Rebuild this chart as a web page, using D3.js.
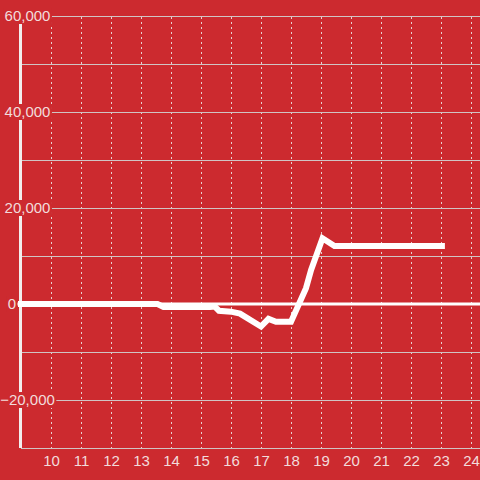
<!DOCTYPE html>
<html>
<head>
<meta charset="utf-8">
<script src="https://cdn.jsdelivr.net/npm/d3@7"></script>
<style>
  body { margin: 0; background: #cc2a2f; }
  svg { display: block; }
  svg text { font-family: "Liberation Sans", Arial, sans-serif; }
</style>
</head>
<body>
<svg id="chart" width="480" height="480"></svg>
<script>
// Colours
var bg = "#cc2a2f";
var labelColour = "#f2dcdc";

// Data
var hours = [9, 13.55, 13.75, 15.3, 15.45, 15.6, 16.0, 16.3, 17.0, 17.25, 17.5, 18.0, 18.5, 18.67, 19.05, 19.45, 23.03];
var values = [0, 0, -600, -600, -500, -1400, -1600, -2000, -4700, -3100, -3700, -3700, 3300, 7100, 13700, 12100, 12100];
var xTicks = [10, 11, 12, 13, 14, 15, 16, 17, 18, 19, 20, 21, 22, 23, 24];
var yGrid = [-20000, -10000, 0, 10000, 20000, 30000, 40000, 50000, 60000];
var yLabels = [-20000, 0, 20000, 40000, 60000];

function drawChart() {
    var width = 480;
    var height = 480;
    var plotLeft = 21, plotRight = 480, plotTop = 16, plotBottom = 448;

    var svg = d3.select("#chart");

    svg.append("rect")
        .attr("width", width)
        .attr("height", height)
        .attr("fill", bg);

    var xScale = d3.scaleLinear()
        .domain([9, 24.3])
        .range([plotLeft, plotRight]);

    var yScale = d3.scaleLinear()
        .domain([-30000, 60000])
        .range([plotBottom, plotTop]);

    // Vertical dashed grid
    svg.append("g")
        .selectAll("line")
        .data(xTicks)
        .enter()
        .append("line")
        .attr("x1", d => Math.round(xScale(d)) + 0.5)
        .attr("x2", d => Math.round(xScale(d)) + 0.5)
        .attr("y1", plotTop + 1)
        .attr("y2", plotBottom)
        .attr("stroke", "#e6d0d0")
        .attr("stroke-width", 1)
        .attr("stroke-dasharray", "2,3");

    // Horizontal grid
    svg.append("g")
        .selectAll("line")
        .data(yGrid)
        .enter()
        .append("line")
        .attr("x1", plotLeft)
        .attr("x2", plotRight)
        .attr("y1", d => Math.round(yScale(d)) + 0.5)
        .attr("y2", d => Math.round(yScale(d)) + 0.5)
        .attr("stroke", "#d0c4c4")
        .attr("stroke-width", 1);

    // x axis
    var xAxis = d3.axisBottom(xScale)
        .tickValues(xTicks)
        .tickSize(0)
        .tickPadding(7)
        .tickFormat(d3.format("d"));

    var gx = svg.append("g")
        .attr("transform", "translate(0," + (plotBottom + 0.5) + ")")
        .call(xAxis);
    gx.attr("font-family", null).attr("font-size", null);
    gx.select(".domain").attr("stroke", "#d0c4c4").attr("d", "M" + plotLeft + ",0H" + plotRight);
    gx.selectAll("text")
        .attr("fill", labelColour)
        .style("font-size", "15px");

    // y axis line
    svg.append("line")
        .attr("x1", 20.5)
        .attr("x2", 20.5)
        .attr("y1", plotTop)
        .attr("y2", plotBottom)
        .attr("stroke", "#f2eeee")
        .attr("stroke-width", 3);

    // zero line
    svg.append("line")
        .attr("x1", 17)
        .attr("x2", plotRight)
        .attr("y1", yScale(0))
        .attr("y2", yScale(0))
        .attr("stroke", "#ffffff")
        .attr("stroke-width", 3);

    // data line
    var line = d3.line()
        .x((d, i) => xScale(hours[i]))
        .y(d => yScale(d));

    svg.append("path")
        .datum(values)
        .attr("d", line)
        .attr("fill", "none")
        .attr("stroke", "#ffffff")
        .attr("stroke-width", 6)
        .attr("stroke-linecap", "square");

    // y labels with background boxes covering the grid
    var fmt = d3.format(",");
    var yl = svg.append("g");
    yLabels.forEach(function (v) {
        var g = yl.append("g");
        var box = g.append("rect").attr("fill", bg);
        var t = g.append("text")
            .attr("y", yScale(v))
            .attr("dy", "0.35em")
            .attr("text-anchor", "middle")
            .attr("fill", labelColour)
            .style("font-size", "15px")
            .text(fmt(v));
        var w = t.node().getComputedTextLength();
        // short labels sit left of the axis, long ones are pushed inside the edge
        var cx = (16 - w < 2) ? 27.5 : 16 - w / 2;
        t.attr("x", cx);
        box.attr("x", cx - w / 2 - 1.5)
            .attr("y", yScale(v) - 8)
            .attr("width", w + 3)
            .attr("height", 16);
    });
}

drawChart();
</script>
</body>
</html>
